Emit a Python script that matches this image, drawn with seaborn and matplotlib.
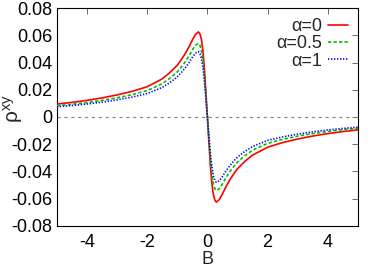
import numpy as np
import pandas as pd
import matplotlib
matplotlib.use("Agg")
import matplotlib.pyplot as plt
import seaborn as sns

# field values B
b_vals = [-5, -4.5, -4, -3.5, -3, -2.5, -2, -1.5, -1.25, -1, -0.9, -0.75, -0.6, -0.5,
          -0.4, -0.3, -0.25, -0.2, -0.15, -0.1, -0.05, 0, 0.05, 0.1, 0.15, 0.2, 0.25,
          0.3, 0.4, 0.5, 0.6, 0.75, 0.9, 1, 1.25, 1.5, 2, 2.5, 3, 3.5, 4, 4.5, 5]

# rho_xy
rho_a0 = [0.0095, 0.0107, 0.0122, 0.0140, 0.0162, 0.0188, 0.0222, 0.0280, 0.0325, 0.0380,
          0.0410, 0.0460, 0.0520, 0.0565, 0.0605, 0.0625, 0.0612, 0.0572, 0.0490, 0.0360,
          0.0185, 0.0,
          -0.0185, -0.0360, -0.0490, -0.0572, -0.0612, -0.0625, -0.0605, -0.0565, -0.0520,
          -0.0460, -0.0410, -0.0380, -0.0325, -0.0280, -0.0222, -0.0188, -0.0162, -0.0140,
          -0.0122, -0.0107, -0.0095]
rho_a05 = [0.0083, 0.0093, 0.0106, 0.0122, 0.0141, 0.0164, 0.0194, 0.0244, 0.0283, 0.0331,
           0.0357, 0.0400, 0.0452, 0.0492, 0.0526, 0.0540, 0.0528, 0.0490, 0.0418, 0.0305,
           0.0157, 0.0,
           -0.0157, -0.0305, -0.0418, -0.0490, -0.0528, -0.0540, -0.0526, -0.0492, -0.0452,
           -0.0400, -0.0357, -0.0331, -0.0283, -0.0244, -0.0194, -0.0164, -0.0141, -0.0122,
           -0.0106, -0.0093, -0.0083]
rho_a1 = [0.0075, 0.0084, 0.0095, 0.0109, 0.0126, 0.0146, 0.0172, 0.0217, 0.0252, 0.0294,
          0.0318, 0.0356, 0.0402, 0.0438, 0.0468, 0.0480, 0.0468, 0.0432, 0.0366, 0.0266,
          0.0137, 0.0,
          -0.0137, -0.0266, -0.0366, -0.0432, -0.0468, -0.0480, -0.0468, -0.0438, -0.0402,
          -0.0356, -0.0318, -0.0294, -0.0252, -0.0217, -0.0172, -0.0146, -0.0126, -0.0109,
          -0.0095, -0.0084, -0.0075]

labels = ["α=0", "α=0.5", "α=1"]
colors = ["#ff0000", "#00c000", "#0000ff"]
styles = ["-", (0, (2, 1.3)), (0, (0.8, 1.0))]

df = pd.DataFrame({
    "B": b_vals * 3,
    "rho": rho_a0 + rho_a05 + rho_a1,
    "alpha": [labels[0]] * len(b_vals) + [labels[1]] * len(b_vals) + [labels[2]] * len(b_vals),
})

sns.set_theme(style="white")
plt.rcParams["font.family"] = ["Liberation Sans", "DejaVu Sans"]
plt.rcParams["mathtext.fontset"] = "custom"
plt.rcParams["mathtext.rm"] = "Liberation Sans"
plt.rcParams["mathtext.it"] = "Liberation Sans"
plt.rcParams["axes.unicode_minus"] = False

fig = plt.figure(figsize=(3.74, 2.68), dpi=100)
ax = fig.add_axes([0.152, 0.157, 0.805, 0.813])

ax.axhline(0, color="#888888", lw=0.9, ls=(0, (2.5, 3)), zorder=1)

for lab, col, st in zip(labels, colors, styles):
    sub = df[df["alpha"] == lab]
    sns.lineplot(data=sub, x="B", y="rho", color=col, linestyle=st, lw=1.2,
                 label=lab, ax=ax, zorder=3)

ax.set_xlim(-5, 5)
ax.set_ylim(-0.08, 0.08)
ax.set_xticks([-4, -2, 0, 2, 4])
ax.set_yticks(np.arange(-0.08, 0.081, 0.02))
ax.set_yticklabels(["-0.08", "-0.06", "-0.04", "-0.02", "0", "0.02", "0.04", "0.06", "0.08"])
ax.tick_params(direction="in", length=4, width=0.6, color="#555555", labelsize=13,
               top=True, right=True, pad=3, labelcolor="black")
ax.tick_params(axis="x", pad=6)
for s in ax.spines.values():
    s.set_color("black")
    s.set_linewidth(0.8)

ax.set_xlabel("B", fontsize=13, labelpad=0)
ax.set_ylabel("ρ$^{xy}$", fontsize=15)
ax.yaxis.set_label_coords(-0.105, 0.54)

ax.legend(loc="upper right", frameon=False, markerfirst=False, fontsize=13,
          handlelength=1.1, handletextpad=0.35, labelspacing=0.02,
          borderaxespad=0.45, borderpad=0.1)

fig.savefig("out.png", dpi=100)
